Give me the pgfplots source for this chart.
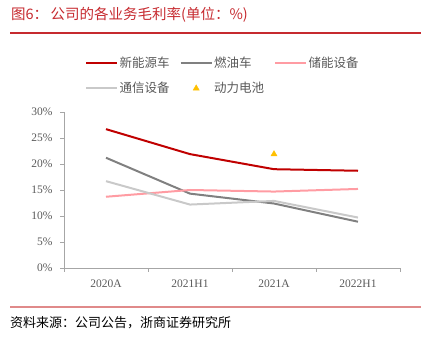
\documentclass[border=0pt]{standalone}
\usepackage{fontspec}
\setmainfont{Liberation Serif}
\newfontfamily\cjk{Noto Sans CJK SC}
\usepackage{pgfplots}
\pgfplotsset{compat=1.18}
\definecolor{evred}{HTML}{C00000}
\definecolor{icegray}{HTML}{808080}
\definecolor{esspink}{HTML}{FF9CA3}
\definecolor{comgray}{HTML}{C9C9C9}
\definecolor{batyel}{HTML}{FFC000}
\definecolor{axgray}{HTML}{A6A6A6}
\definecolor{txtgray}{HTML}{595959}
\definecolor{titred}{HTML}{C62A2F}
\definecolor{linered}{HTML}{E08A8A}
\begin{document}
\begin{tikzpicture}[x=1pt,y=1pt]
\useasboundingbox (0,0) rectangle (442,339);
% title
\node[anchor=west,inner sep=0pt,text=titred,font=\fontsize{14.5}{15}\cjk] at (11,324) {图6：\,公司的各业务毛利率(单位：\%)};
\draw[titred,line width=1.2pt] (10,306) -- (421,306);
% bottom
\draw[linered,line width=2pt] (10,32) -- (421,32);
\node[anchor=west,inner sep=0pt,text=black,font=\fontsize{13}{14}\cjk] at (10,16) {资料来源：公司公告，浙商证券研究所};
\begin{axis}[
  at={(64pt,71pt)}, anchor=south west,
  scale only axis, width=336pt, height=156pt,
  xmin=0, xmax=4, ymin=0, ymax=30,
  axis x line*=bottom, axis y line*=left,
  axis line style={axgray,line width=0.8pt,-},
  xtick={0,1,2,3,4},
  xticklabels={2020A,2021H1,2021A,2022H1},
  x tick label as interval,
  ytick={0,5,10,15,20,25,30},
  yticklabels={0\%,5\%,10\%,15\%,20\%,25\%,30\%},
  tick align=outside,
  major tick length=4pt,
  tick style={axgray,line width=0.8pt},
  ticklabel style={text=txtgray,font=\fontsize{11.5}{12}\selectfont},
  xticklabel style={yshift=-4pt},
  yticklabel style={xshift=-4pt},
  clip=false,
  legend columns=3,
  legend cell align=left,
  legend style={at={(0.0625,1.365)}, anchor=north west, draw=none, fill=none,
    inner sep=0pt, font=\fontsize{12.5}{13}\cjk, text=txtgray,
    row sep=10.5pt,
    nodes={inner sep=1.5pt},
    /tikz/every even column/.append style={column sep=8.5pt}},
  legend image code/.code={\draw[mark repeat=2,mark phase=2,#1] plot coordinates {(0pt,0pt) (15.5pt,0pt) (31pt,0pt)};},
]
\addplot[evred,line width=2pt,no markers] coordinates {(0.5,26.7) (1.5,21.9) (2.5,19.0) (3.5,18.7)};
\addlegendentry{新能源车}
\addplot[icegray,line width=2pt,no markers] coordinates {(0.5,21.2) (1.5,14.3) (2.5,12.4) (3.5,8.9)};
\addlegendentry{燃油车}
\addplot[esspink,line width=2pt,no markers] coordinates {(0.5,13.7) (1.5,15.0) (2.5,14.7) (3.5,15.2)};
\addlegendentry{储能设备}
\addplot[comgray,line width=2pt,no markers] coordinates {(0.5,16.7) (1.5,12.2) (2.5,12.9) (3.5,9.7)};
\addlegendentry{通信设备}
\addplot[only marks,mark=triangle*,mark size=3.5pt,color=batyel] coordinates {(2.5,21.9)};
\addlegendentry{动力电池}
\end{axis}
\end{tikzpicture}
\end{document}
